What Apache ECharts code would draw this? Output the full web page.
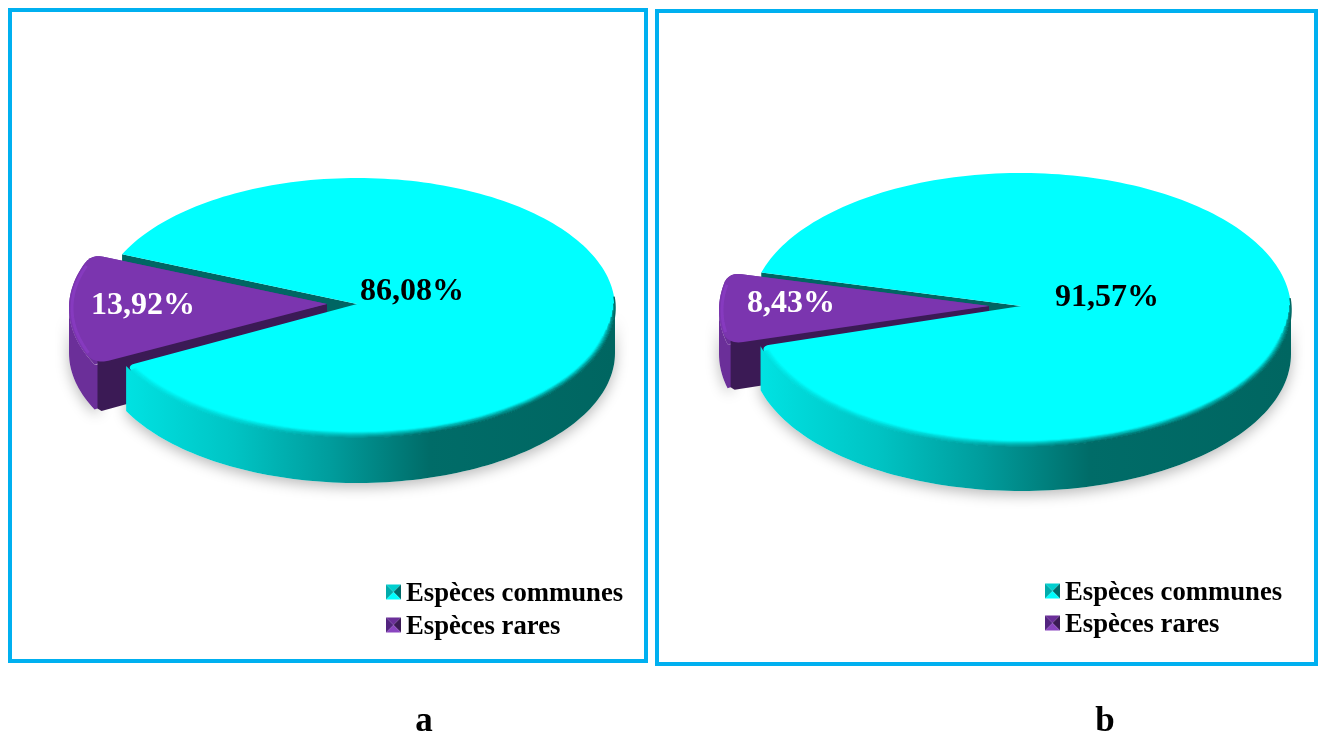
<!DOCTYPE html>
<html>
<head>
<meta charset="utf-8">
<style>html,body{margin:0;padding:0;background:#fff}#chart{width:1319px;height:735px}</style>
<script src="https://cdn.jsdelivr.net/npm/echarts@6/dist/echarts.min.js"></script>
</head>
<body>
<div id="chart"></div>
<script>
// Species shares per station
const categories = ['Espèces communes', 'Espèces rares'];
const valuesA = [86.08, 13.92];
const valuesB = [91.57, 8.43];
const panelNames = ['a', 'b'];

const SERIF = '"Liberation Serif","Times New Roman",serif';
const FRAME = '#00B0F0';

// Layout of each tilted disc: ellipse, wall height, slice offset and label anchors
const panels = [
  { values: valuesA, frame: [10, 10, 636, 651], cx: 357, cy: 308, rx: 258, ry: 130, apexLift: 4, depth: 45,
    explode: 30, rareStart: 154.3, labels: [[412, 292], [143, 306]],
    legend: { x: 386, text: 406, rows: [592, 625] }, caption: [424, 722] },
  { values: valuesB, frame: [657, 11, 659, 653], cx: 1021, cy: 310, rx: 270, ry: 137, apexLift: 4, depth: 44,
    explode: 32, rareStart: 165.5, labels: [[1107, 298], [791, 304]],
    legend: { x: 1045, text: 1065, rows: [591, 623] }, caption: [1105, 722] }
];

const rad = d => d * Math.PI / 180;

function arc(c, ry, rx, a0, a1, dy) {
  const out = [], n = Math.max(2, Math.ceil(Math.abs(a1 - a0) / 1.5));
  for (let i = 0; i <= n; i++) {
    const t = rad(a0 + (a1 - a0) * i / n);
    out.push([c.x + rx * Math.cos(t), c.y + ry * Math.sin(t) + (dy || 0)]);
  }
  return out;
}

function quad(p0, c, p1) {
  const out = [];
  for (let i = 0; i <= 6; i++) {
    const t = i / 6, u = 1 - t;
    out.push([u * u * p0[0] + 2 * u * t * c[0] + t * t * p1[0], u * u * p0[1] + 2 * u * t * c[1] + t * t * p1[1]]);
  }
  return out;
}

// Top face of a slice, with softened outer corners
function sectorFace(c, apex, rx, ry, a0, a1, soft0, soft1) {
  const corner = a => arc(c, ry, rx, a, a, 0)[0];
  const toward = (p, f) => [p[0] + (apex[0] - p[0]) * f, p[1] + (apex[1] - p[1]) * f];
  const c0 = corner(a0), c1 = corner(a1);
  let pts = [apex];
  if (soft0 > 0) pts = pts.concat(quad(toward(c0, soft0 * 0.012), c0, corner(a0 + soft0)));
  else pts.push(c0);
  pts = pts.concat(arc(c, ry, rx, a0 + soft0, a1 - soft1));
  if (soft1 > 0) pts = pts.concat(quad(corner(a1 - soft1), c1, toward(c1, soft1 * 0.012)));
  else pts.push(c1);
  return pts;
}

function wall(c, rx, ry, a0, a1, depth) {
  return arc(c, ry, rx, a0, a1).concat(arc(c, ry, rx, a1, a0, depth));
}

const hGrad = stops => new echarts.graphic.LinearGradient(0, 0, 1, 0, stops.map(s => ({ offset: s[0], color: s[1] })));
const tealWall = () => hGrad([[0, '#00E2E2'], [0.22, '#00C4C4'], [0.42, '#009C9C'], [0.62, '#006C68'], [1, '#006661']]);
const fmt = v => v.toFixed(2).replace('.', ',') + '%';

function renderSlice(panel, params, api) {
  const idx = params.dataIndex;
  const total = panel.values[0] + panel.values[1];
  const rareSpan = panel.values[1] / total * 360;
  const rareEnd = panel.rareStart + rareSpan;
  const kids = [];
  const add = (z2, el) => { el.z2 = z2; el.silent = true; kids.push(el); };

  if (idx === 0) {
    const c = { x: panel.cx, y: panel.cy };
    const apex = [c.x, c.y - panel.apexLift];
    const upper = arc(c, panel.ry, panel.rx, rareEnd, rareEnd)[0];
    const end = panel.rareStart;
    const body = wall(c, panel.rx, panel.ry, 0, end - 0.8, panel.depth);
    // cast shadow under the disc
    add(1, { type: 'polygon', shape: { points: body }, style: { fill: '#fff', shadowBlur: 14, shadowOffsetY: 4, shadowColor: 'rgba(0,0,0,0.28)' } });
    // cut face exposed behind the pulled-out slice
    add(2, { type: 'polygon', shape: { points: [apex, upper, [upper[0], upper[1] + panel.depth], [apex[0], apex[1] + panel.depth]] }, style: { fill: '#006663' } });
    add(7, { type: 'polygon', shape: { points: body }, style: { fill: tealWall() } });
    add(8, { type: 'polygon', shape: { points: sectorFace(c, apex, panel.rx, panel.ry, rareEnd, end + 360 - 0.8, 0, 3) }, style: { fill: '#00FFFF' } });
    // soft bevel where the top face rolls into the wall
    for (let k = 0; k <= 6; k++) {
      add(9, { type: 'polyline', shape: { points: arc(c, panel.ry - k, panel.rx - k, -5 + 3 * k, end - 3) },
        style: { fill: null, stroke: tealWall(), lineWidth: 1.5, opacity: 1 - k / 6.5 } });
    }
  } else {
    const c = { x: panel.cx - panel.explode, y: panel.cy };
    const apex = [c.x, c.y - panel.apexLift];
    const lower = arc(c, panel.ry, panel.rx, panel.rareStart, panel.rareStart)[0];
    const dark = lower[0] + 3;
    // outer wall, tucked under the darker cut face at its front end
    const side = wall(c, panel.rx, panel.ry, panel.rareStart, 180, panel.depth)
      .concat([[dark + 1.5, lower[1] + panel.depth - 1.5], [dark + 1.5, lower[1]]]);
    add(1, { type: 'polygon', shape: { points: side }, style: { fill: '#fff', shadowBlur: 14, shadowOffsetY: 4, shadowColor: 'rgba(0,0,0,0.28)' } });
    add(3, { type: 'polygon', shape: { points: side }, style: { fill: '#6B2F99' } });
    // wall colour behind the rounded front corner of the top face
    add(3, { type: 'polygon', shape: { points: sectorFace(c, apex, panel.rx, panel.ry, panel.rareStart, rareEnd, 0, 4) }, style: { fill: '#6B2F99' } });
    add(4, { type: 'polygon', shape: { points: [apex, [dark, lower[1] - 6], [dark, lower[1] + panel.depth - 1], [dark + 4, lower[1] + panel.depth + 1.5], [apex[0], apex[1] + panel.depth]] }, style: { fill: '#3B1A55' } });
    add(5, { type: 'polygon', shape: { points: sectorFace(c, apex, panel.rx, panel.ry, panel.rareStart, rareEnd, 5, 4) }, style: { fill: '#7B35AF' } });
    add(6, { type: 'polyline', shape: { points: arc(c, panel.ry - 3, panel.rx - 3, panel.rareStart + 5, rareEnd - 5) },
      style: { fill: null, stroke: '#8A3CC4', lineWidth: 3, opacity: 0.75 } });
  }

  const pos = panel.labels[idx];
  add(20, { type: 'text', style: { x: pos[0], y: pos[1], text: fmt(api.value(0)), fill: idx === 0 ? '#000' : '#fff',
    fontFamily: SERIF, fontWeight: 'bold', fontSize: 32, align: 'center', verticalAlign: 'middle' } });

  return { type: 'group', children: kids };
}

// Panel frames, four-facet legend keys, legend text and captions
const swatches = [
  ['#00CFCF', '#006B6B', '#00FFFF', '#00ABAB'],
  ['#6B2F99', '#3B1A55', '#8A45C0', '#532480']
];
const graphics = [];
panels.forEach((p, i) => {
  graphics.push({ type: 'rect', silent: true, shape: { x: p.frame[0], y: p.frame[1], width: p.frame[2], height: p.frame[3] },
    style: { fill: 'none', stroke: FRAME, lineWidth: 4 } });
  categories.forEach((name, r) => {
    const y = p.legend.rows[r], x0 = p.legend.x, s = 15, top = y - 7.5, mid = [x0 + s / 2, y];
    const tl = [x0, top], tr = [x0 + s, top], br = [x0 + s, top + s], bl = [x0, top + s];
    [[tl, tr], [tr, br], [br, bl], [bl, tl]].forEach((e, f) => {
      graphics.push({ type: 'polygon', silent: true, shape: { points: [e[0], e[1], mid] }, style: { fill: swatches[r][f] } });
    });
    graphics.push({ type: 'text', silent: true, style: { x: p.legend.text, y: y + 2, text: name, fill: '#000', fontFamily: SERIF,
      fontWeight: 'bold', fontSize: 26.7, align: 'left', verticalAlign: 'middle' } });
  });
  graphics.push({ type: 'text', silent: true, style: { x: p.caption[0], y: p.caption[1], text: panelNames[i], fill: '#000',
    fontFamily: SERIF, fontWeight: 'bold', fontSize: 35, align: 'center', verticalAlign: 'middle' } });
});

const chart = echarts.init(document.getElementById('chart'), null, { renderer: 'canvas' });
chart.setOption({
  backgroundColor: '#fff',
  animation: false,
  graphic: graphics,
  series: panels.map(p => ({
    type: 'custom',
    coordinateSystem: 'none',
    silent: true,
    data: p.values.map((v, i) => ({ name: categories[i], value: v })),
    renderItem: (params, api) => renderSlice(p, params, api)
  }))
});
</script>
</body>
</html>
